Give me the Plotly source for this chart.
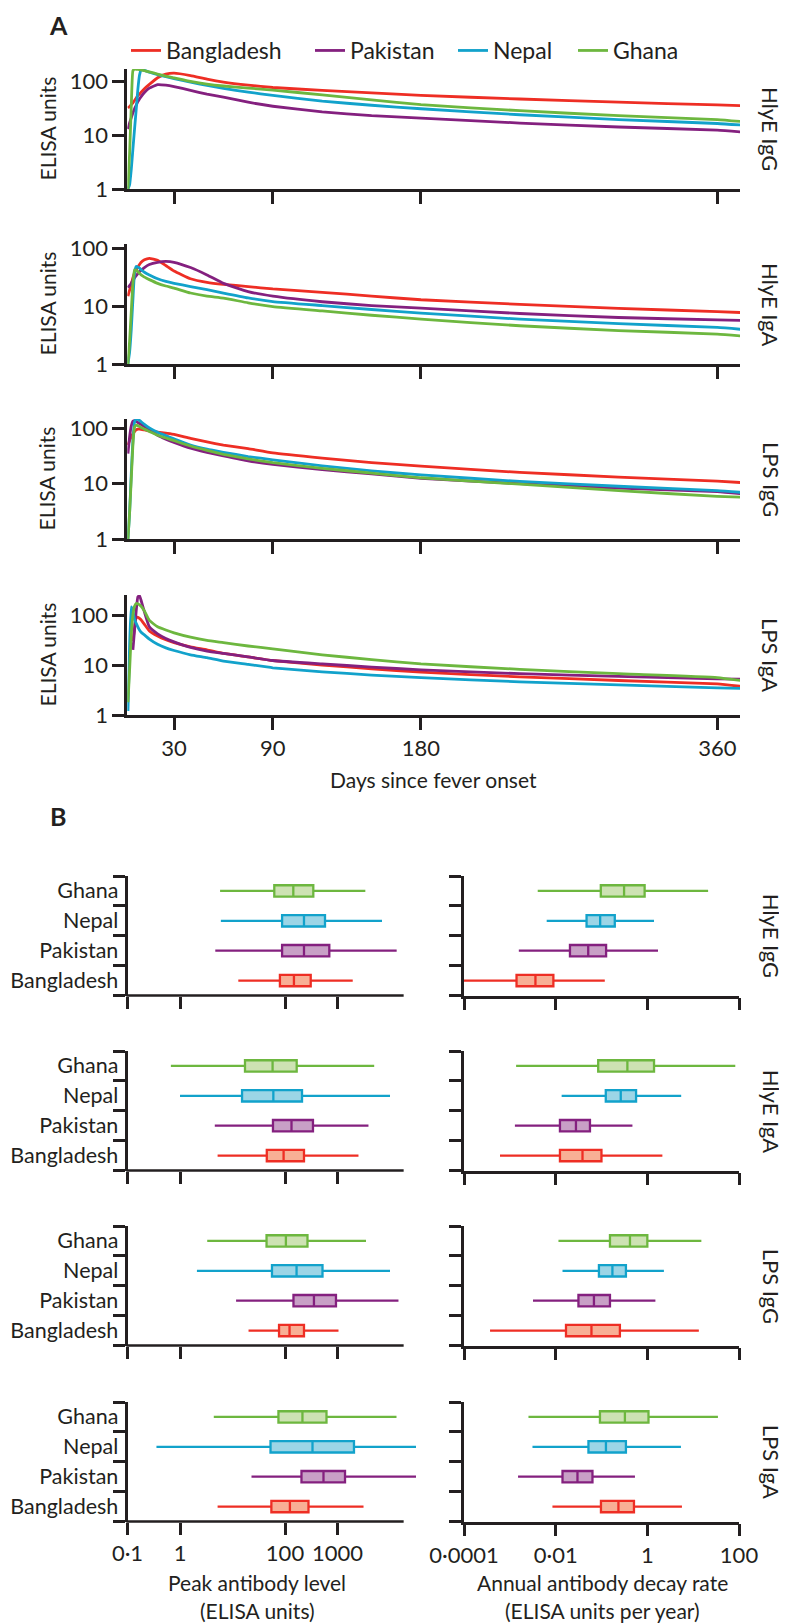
import plotly.graph_objects as go

W, H = 787, 1624
OFF = 8  # default page body margin of the html page
FONT = "Lato, 'Open Sans', sans-serif"
INK = "#231F20"

COUNTRIES = ["Bangladesh", "Pakistan", "Nepal", "Ghana"]
LINE_COLORS = ["#EE2E24", "#84207F", "#12A2CB", "#6DB73F"]
FILL_COLORS = ["#F8AF95", "#C8A0C6", "#9CD5E6", "#CDE2B3"]

# ---------------- Panel A: modelled antibody kinetics ----------------
DAYS = [2, 3, 4, 5, 6, 7, 8, 9, 10, 12, 15, 20, 25, 30, 40, 50, 60, 75, 90,
        120, 150, 180, 240, 300, 360, 374]
X_TICKS = [30, 90, 180, 360]

HLYE_IGG_BANGLADESH = [32, 34, 37, 40, 44, 49, 54, 58, 63, 73, 88, 117, 136, 142, 128, 110, 97, 85, 77, 68, 61, 55, 47, 41, 36.5, 35.5]
HLYE_IGG_PAKISTAN = [13, 17, 21, 26, 31, 36, 42, 47, 52, 62, 75, 87, 85, 80, 68, 58, 51, 41, 34.5, 27, 23, 20.8, 16.8, 14.2, 12.4, 11.5]
HLYE_IGG_NEPAL = [1, 1.2, 2.3, 5.5, 13, 30, 70, 130, 167, 160, 148, 133, 122, 113, 97, 84, 74, 63, 55, 43, 36, 31, 24, 19.5, 16.5, 15.5]
HLYE_IGG_GHANA = [1, 4.6, 33, 157, 168, 168, 167, 165, 163, 158, 150, 137, 125, 116, 100, 89, 82, 75, 69, 56, 45.5, 37, 28.5, 23, 19.5, 18]

HLYE_IGA_BANGLADESH = [15, 19, 24, 31, 38, 43, 48, 53, 58, 64, 68, 63, 51, 41, 30, 26, 24, 22, 20, 17.5, 15, 13, 10.8, 9.2, 8.1, 7.8]
HLYE_IGA_PAKISTAN = [21, 23, 25, 28, 31, 34, 37, 40, 42, 47, 53, 58, 60, 58, 47, 35, 25, 18, 15, 12, 10.3, 9.3, 7.5, 6.4, 5.8, 5.7]
HLYE_IGA_NEPAL = [1, 1.6, 3.9, 13, 38, 49, 48, 46, 43, 39, 35, 30, 27, 25, 22, 19.5, 17, 14, 12.1, 10.3, 8.8, 7.6, 6.0, 5.0, 4.3, 4.0]
HLYE_IGA_GHANA = [1, 2.5, 8, 25, 43, 42, 40, 37.5, 35, 32, 29, 25, 22.5, 20.7, 17, 15, 13.9, 11.5, 9.9, 8.3, 7, 6.0, 4.6, 3.8, 3.3, 3.07]

LPS_IGG_BANGLADESH = [50, 60, 70, 80, 88, 94, 97, 97, 96, 94, 90, 86, 82, 78, 66, 57, 50, 43, 36, 29, 24, 20.8, 16, 13.2, 11.1, 10.5]
LPS_IGG_PAKISTAN = [35, 70, 110, 135, 138, 134, 128, 123, 118, 108, 95, 75, 64, 56, 44, 37, 32, 26, 22.4, 18, 15, 12.5, 10, 8.3, 7.2, 6.6]
LPS_IGG_NEPAL = [1, 3, 15, 60, 130, 148, 145, 140, 132, 118, 102, 85, 74, 65, 50, 42, 37, 31, 27, 21, 17, 14.4, 11, 9, 7.5, 7.0]
LPS_IGG_GHANA = [1, 3, 12, 50, 105, 115, 112, 108, 104, 97, 88, 75, 67, 60, 48, 40, 34, 28, 24, 19, 15.5, 12.8, 9.8, 7.5, 5.9, 5.7]

LPS_IGA_BANGLADESH = [None, None, None, 30, 55, 88, 90, 86, 80, 65, 48, 38, 32, 28, 23, 20, 17, 14.5, 12.3, 10, 8.4, 7.2, 5.8, 4.9, 4.2, 3.75]
LPS_IGA_PAKISTAN = [None, None, None, 20, 50, 120, 230, 245, 195, 115, 58, 42, 34, 29, 22.5, 19, 17, 14.5, 12.3, 10.5, 9.1, 8.0, 6.7, 5.9, 5.3, 5.2]
LPS_IGA_NEPAL = [1.2, 25, 146, 120, 82, 68, 58, 50, 45, 40, 33, 26, 22, 19.5, 16, 14, 12, 10.3, 8.8, 7.3, 6.3, 5.6, 4.6, 4.0, 3.5, 3.4]
LPS_IGA_GHANA = [1.8, 8, 40, 100, 150, 170, 168, 160, 150, 120, 78, 58, 50, 44, 36, 31, 28, 24, 21, 16, 12.8, 10.5, 8.2, 6.7, 5.6, 4.9]

A_PANELS = [
    ("HlyE IgG", [HLYE_IGG_BANGLADESH, HLYE_IGG_PAKISTAN, HLYE_IGG_NEPAL, HLYE_IGG_GHANA], 2.23),
    ("HlyE IgA", [HLYE_IGA_BANGLADESH, HLYE_IGA_PAKISTAN, HLYE_IGA_NEPAL, HLYE_IGA_GHANA], 2.08),
    ("LPS IgG", [LPS_IGG_BANGLADESH, LPS_IGG_PAKISTAN, LPS_IGG_NEPAL, LPS_IGG_GHANA], 2.17),
    ("LPS IgA", [LPS_IGA_BANGLADESH, LPS_IGA_PAKISTAN, LPS_IGA_NEPAL, LPS_IGA_GHANA], 2.40),
]

# ---------------- Panel B: box summaries [low, q1, median, q3, high] per country ----------------
PEAK_HLYE_IGG = [[12.9, 80, 148, 309, 1950], [4.7, 88, 230, 698, 13400], [6.0, 88, 230, 578, 7050], [5.8, 62.5, 144, 346, 3390]]
PEAK_HLYE_IGA = [[5.2, 45, 94, 230, 2510], [4.6, 59, 133, 341, 3890], [1.0, 15.2, 60, 211, 10000], [0.67, 17.3, 58, 167, 5000]]
PEAK_LPS_IGG = [[20.2, 77, 122, 230, 1045], [11.7, 145, 356, 935, 14500], [2.1, 56.5, 166, 518, 10000], [3.3, 44.5, 104, 268, 3490]]
PEAK_LPS_IGA = [[5.2, 55, 124, 280, 3130], [23, 206, 541, 1390, 31300], [0.356, 53, 334, 2060, 31300], [4.4, 75, 215, 617, 13300]]

DECAY_HLYE_IGG = [[0.00005, 0.0014, 0.00362, 0.00891, 0.118], [0.00157, 0.0205, 0.0513, 0.126, 1.71], [0.00637, 0.0472, 0.0935, 0.195, 1.40], [0.00406, 0.0966, 0.311, 0.873, 21.2]]
DECAY_HLYE_IGA = [[0.00061, 0.0124, 0.0385, 0.0998, 2.13], [0.00129, 0.0124, 0.0277, 0.056, 0.473], [0.0135, 0.124, 0.263, 0.568, 5.48], [0.00137, 0.0847, 0.367, 1.40, 83]]
DECAY_LPS_IGG = [[0.00037, 0.0168, 0.0604, 0.252, 13.3], [0.0032, 0.0314, 0.0684, 0.153, 1.50], [0.0141, 0.0879, 0.173, 0.341, 2.30], [0.0115, 0.153, 0.418, 1.0, 15.1]]
DECAY_LPS_IGA = [[0.0085, 0.0973, 0.234, 0.511, 5.69], [0.00151, 0.0141, 0.0299, 0.0635, 0.537], [0.00312, 0.0519, 0.125, 0.341, 5.41], [0.00255, 0.0925, 0.324, 1.06, 34.7]]

B_ROWS = [
    ("HlyE IgG", PEAK_HLYE_IGG, DECAY_HLYE_IGG),
    ("HlyE IgA", PEAK_HLYE_IGA, DECAY_HLYE_IGA),
    ("LPS IgG", PEAK_LPS_IGG, DECAY_LPS_IGG),
    ("LPS IgA", PEAK_LPS_IGA, DECAY_LPS_IGA),
]
PEAK_TICKS = [0.1, 1, 100, 1000]
PEAK_TICKTEXT = ["0·1", "1", "100", "1000"]
DECAY_TICKS = [0.0001, 0.01, 1, 100]
DECAY_TICKTEXT = ["0·0001", "0·01", "1", "100"]


def fx(px):
    return (px - OFF) / W


def fy(py):
    return 1 - (py - OFF) / H


AX_W = 2.7
TICK_FONT = dict(family=FONT, size=22, color=INK)
axis_common = dict(showgrid=False, zeroline=False, ticks="outside", ticklen=12,
                   tickwidth=AX_W, tickcolor=INK, linecolor=INK, linewidth=AX_W,
                   tickfont=TICK_FONT, automargin=False)


def note(text, x, y, size=21, angle=0, yanchor="middle"):
    return dict(text=text, x=fx(x), y=fy(y), xref="paper", yref="paper", xanchor="center",
                yanchor=yanchor, textangle=angle, showarrow=False,
                font=dict(family=FONT, size=size, color=INK))


fig = go.Figure()
layout = {}
annotations = []
shapes = []

# legend entries placed one by one (one legend per country)
LEGEND_IDS = ["legend", "legend2", "legend3", "legend4"]
LEGEND_X = [126, 310, 453, 573]
for k, lid in enumerate(LEGEND_IDS):
    layout[lid] = dict(orientation="h", x=fx(LEGEND_X[k]), y=fy(29), xanchor="left", yanchor="top",
                       font=dict(family=FONT, size=23, color=INK), bgcolor="rgba(0,0,0,0)",
                       itemwidth=30)

# ---- Panel A ----
A_LEFT, A_RIGHT = 127.3, 740.0
A_TOPS = [69, 244, 419, 595]
A_HEIGHT = 120
for i, (label, curves, ymax) in enumerate(A_PANELS):
    n = i + 1
    top = A_TOPS[i]
    bottom = top + A_HEIGHT
    layout[f"xaxis{n}"] = dict(axis_common, domain=[fx(A_LEFT), fx(A_RIGHT)], range=[1.6, 373.8],
                               anchor=f"y{n}", tickvals=X_TICKS, ticktext=[str(t) for t in X_TICKS],
                               showticklabels=(i == 3), showline=True)
    layout[f"yaxis{n}"] = dict(axis_common, domain=[fy(bottom), fy(top)], type="log", range=[0, ymax],
                               anchor=f"x{n}", tickvals=[1, 10, 100], ticktext=["1", "10", "100"],
                               showline=True)
    for c, vals in enumerate(curves):
        fig.add_trace(go.Scatter(x=DAYS, y=vals, mode="lines", name=COUNTRIES[c],
                                 line=dict(color=LINE_COLORS[c], width=2.8, shape="spline", smoothing=0.4),
                                 xaxis=f"x{n}", yaxis=f"y{n}", showlegend=(i == 0),
                                 legend=LEGEND_IDS[c], connectgaps=False, hoverinfo="skip"))
    mid = (top + bottom) / 2
    annotations.append(note("ELISA units", 46.5, mid, angle=-90))
    annotations.append(note(label, 771, mid, size=22, angle=90))

annotations.append(note("Days since fever onset", 433.5, 780))

# ---- Panel B ----
B_TOPS = [876, 1051, 1226, 1402]
B_HEIGHT = 119.5
L_LEFT, L_DEC = 127.5, 52.5
L_RANGE = [-1, 4.5]
L_AXIS_END = 4.26
R_LEFT, R_RIGHT = 464.0, 739.0
for r, (label, peak, decay) in enumerate(B_ROWS):
    top = B_TOPS[r]
    bottom = top + B_HEIGHT
    for c in range(2):
        n = 5 + r * 2 + c
        last = (r == 3)
        if c == 0:
            xdom = [fx(L_LEFT), fx(L_LEFT + (L_RANGE[1] - L_RANGE[0]) * L_DEC)]
            layout[f"xaxis{n}"] = dict(axis_common, domain=xdom, type="log", range=L_RANGE,
                                       anchor=f"y{n}", tickvals=PEAK_TICKS, ticktext=PEAK_TICKTEXT,
                                       showticklabels=last, showline=False)
            frac = (L_AXIS_END - L_RANGE[0]) / (L_RANGE[1] - L_RANGE[0])
            shapes.append(dict(type="line", xref=f"x{n} domain", yref=f"y{n} domain",
                               x0=-0.004, x1=frac, y0=0, y1=0,
                               line=dict(color=INK, width=AX_W)))
            data = peak
        else:
            layout[f"xaxis{n}"] = dict(axis_common, domain=[fx(R_LEFT), fx(R_RIGHT)], type="log",
                                       range=[-4, 2], anchor=f"y{n}", tickvals=DECAY_TICKS,
                                       ticktext=DECAY_TICKTEXT, showticklabels=last, showline=True)
            data = decay
        layout[f"yaxis{n}"] = dict(axis_common, domain=[fy(bottom), fy(top)], type="category",
                                   categoryorder="array", categoryarray=COUNTRIES,
                                   range=[-0.5, 3.5], tickson="boundaries", anchor=f"x{n}",
                                   showticklabels=(c == 0), showline=True, ticklabelstandoff=2,
                                   tickfont=dict(family=FONT, size=21.5, color=INK))
        for k, country in enumerate(COUNTRIES):
            lo, q1, med, q3, hi = data[k]
            fig.add_trace(go.Box(y=[country], q1=[q1], median=[med], q3=[q3],
                                 lowerfence=[lo], upperfence=[hi], orientation="h",
                                 fillcolor=FILL_COLORS[k], line=dict(color=LINE_COLORS[k], width=2.3),
                                 whiskerwidth=0, width=0.38, boxpoints=False,
                                 xaxis=f"x{n}", yaxis=f"y{n}", showlegend=False, hoverinfo="skip"))
    mid = (top + bottom) / 2
    annotations.append(note(label, 771, mid, size=22, angle=90))

annotations += [
    note("Peak antibody level", 257, 1582),
    note("(ELISA units)", 257, 1610),
    note("Annual antibody decay rate", 602, 1582),
    note("(ELISA units per year)", 602, 1610),
    note("<b>A</b>", 58, 8, size=25, yanchor="top"),
    note("<b>B</b>", 58, 816, size=25),
]

fig.update_layout(
    width=W, height=H,
    margin=dict(l=0, r=0, t=0, b=0, autoexpand=False),
    paper_bgcolor="white", plot_bgcolor="white",
    showlegend=True,
    annotations=annotations,
    shapes=shapes,
    boxmode="overlay",
    **layout,
)

fig.write_html("out.html")
